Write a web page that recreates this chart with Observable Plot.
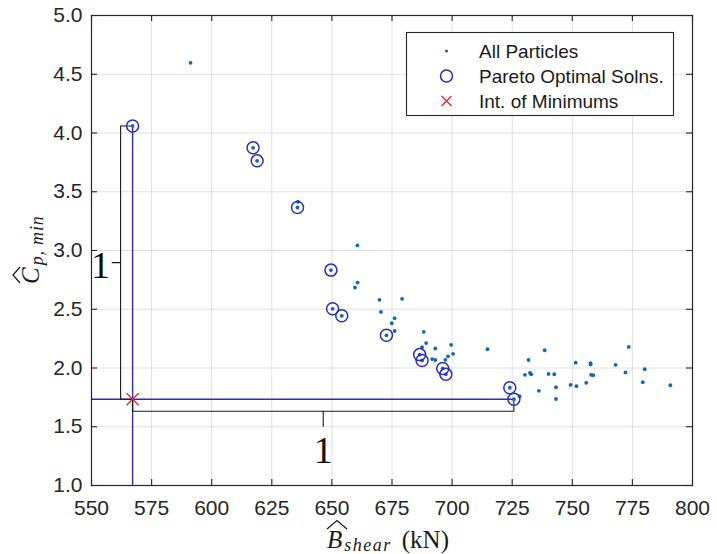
<!DOCTYPE html>
<html><head><meta charset="utf-8">
<script src="https://cdn.jsdelivr.net/npm/d3@7"></script>
<script src="https://cdn.jsdelivr.net/npm/@observablehq/plot@0.6"></script>
<style>html,body{margin:0;padding:0;background:#fff}svg{display:block}</style>
</head><body><div id="chart"></div>
<script>
// ---- data ----
const particleX = [591.2, 635.9, 660.6, 660.7, 659.6, 669.8, 679.2, 670.4, 676.1, 674.9, 676.1, 688.2, 689.2, 687.5, 693.0, 699.6, 700.4, 698.3, 697.2, 691.7, 693.0, 714.7, 728.1, 738.5, 731.8, 730.3, 732.4, 732.9, 736.1, 740.1, 742.5, 743.2, 743.2, 749.3, 751.4, 751.7, 755.8, 757.6, 757.6, 757.8, 758.7, 768.0, 772.1, 773.5, 780.1, 779.3, 790.8];
const particleY = [4.597, 3.415, 3.043, 2.727, 2.685, 2.580, 2.589, 2.477, 2.424, 2.381, 2.315, 2.308, 2.212, 2.177, 2.166, 2.197, 2.121, 2.099, 2.070, 2.076, 2.068, 2.160, 1.760, 2.151, 2.068, 1.942, 1.959, 1.946, 1.806, 1.950, 1.947, 1.837, 1.736, 1.857, 2.045, 1.845, 1.874, 2.041, 2.029, 1.942, 1.939, 2.027, 1.962, 2.179, 1.990, 1.879, 1.853];
const paretoX = [567.1, 617.2, 618.9, 635.7, 649.6, 650.3, 654.1, 672.7, 686.5, 687.5, 696.1, 697.4, 724.0, 725.7];
const paretoY = [4.060, 3.874, 3.763, 3.366, 2.833, 2.504, 2.444, 2.278, 2.114, 2.064, 1.996, 1.946, 1.832, 1.734];
const xTicks = [550, 575, 600, 625, 650, 675, 700, 725, 750, 775, 800];
const yTicks = [1.0, 1.5, 2.0, 2.5, 3.0, 3.5, 4.0, 4.5, 5.0];
const legendLabels = ["All Particles", "Pareto Optimal Solns.", "Int. of Minimums"];
const bracketLabel = "1";

// ---- derived tables ----
const particles = particleX.map((x, i) => ({x, y: particleY[i]}));
const pareto = paretoX.map((x, i) => ({x, y: paretoY[i]}));
const iMinX = d3.minIndex(paretoX), iMinY = d3.minIndex(paretoY);
const xMin = paretoX[iMinX], yAtXMin = paretoY[iMinX];
const yMin = paretoY[iMinY], xAtYMin = paretoX[iMinY];
const intersection = [{x: xMin, y: yMin}];

const W = 717, H = 554, mL = 91, mR = 25, mT = 15, mB = 69;
const plotW = W - mL - mR, plotH = H - mT - mB;
const xD = [550, 800], yD = [1, 5];
const ux = (xD[1] - xD[0]) / plotW, uy = (yD[1] - yD[0]) / plotH; // data units per px
const tX = 6 * ux, tY = 6 * uy;

const blueLines = [
  {x: xMin, y: yD[0], g: "v"}, {x: xMin, y: yAtXMin, g: "v"},
  {x: xD[0], y: yMin, g: "h"}, {x: xAtYMin, y: yMin, g: "h"}
];
const bx = xMin - 12 * ux, by = yMin - 12 * uy;
const yMid = (yAtXMin + yMin) / 2, xMid = (xMin + xAtYMin) / 2;
const brackets = [
  {x: xMin, y: yAtXMin, g: "a"}, {x: bx, y: yAtXMin, g: "a"}, {x: bx, y: yMin, g: "a"}, {x: xMin, y: yMin, g: "a"},
  {x: bx, y: yMid, g: "b"}, {x: bx - 8.5 * ux, y: yMid, g: "b"},
  {x: xMin, y: yMin, g: "c"}, {x: xMin, y: by, g: "c"}, {x: xAtYMin, y: by, g: "c"}, {x: xAtYMin, y: yMin, g: "c"},
  {x: xMid, y: by, g: "d"}, {x: xMid, y: by - 15 * uy, g: "d"}
];
const bracketText = [
  {x: bx - 20 * ux, y: yMid - 3 * uy, t: bracketLabel},
  {x: xMid, y: by - 40 * uy, t: bracketLabel}
];

const AX = "#262626", GRID = "#000", BLUE = "#2b2bc4", PBLUE = "#0f6aa8", RED = "#e0262b";
const sans = "'Liberation Sans', Arial, Helvetica, sans-serif";
const serif = "'Liberation Serif', 'Times New Roman', serif";

const chart = Plot.plot({
  width: W, height: H,
  marginLeft: mL, marginRight: mR, marginTop: mT, marginBottom: mB,
  style: {fontFamily: sans, fontSize: "21px", color: AX, background: "#fff", overflow: "visible"},
  x: {domain: xD, axis: null},
  y: {domain: yD, axis: null},
  marks: [
    Plot.ruleX(xTicks.slice(1, -1), {x: d => d, stroke: GRID, strokeOpacity: 0.12}),
    Plot.ruleY(yTicks.slice(1, -1), {y: d => d, stroke: GRID, strokeOpacity: 0.12}),
    Plot.line(blueLines, {x: "x", y: "y", z: "g", stroke: BLUE, strokeWidth: 1.4}),
    Plot.line(brackets, {x: "x", y: "y", z: "g", stroke: "#1a1a1a", strokeWidth: 1.1}),
    Plot.dot(particles, {x: "x", y: "y", r: 1.9, fill: PBLUE, stroke: "none"}),
    Plot.dot(pareto, {x: "x", y: "y", r: 1.9, fill: PBLUE, stroke: "none"}),
    Plot.dot(pareto, {x: "x", y: "y", r: 6, stroke: BLUE, strokeWidth: 1.5, fill: "none"}),
    Plot.dot(intersection, {x: "x", y: "y", symbol: "times", r: 5.5, stroke: RED, strokeWidth: 1.3}),
    Plot.text(bracketText, {x: "x", y: "y", text: "t", fontFamily: serif, fontSize: 38, fill: "#111"}),
    Plot.frame({stroke: AX, strokeWidth: 1.2}),
    Plot.ruleX(xTicks, {x: d => d, y1: yD[0], y2: yD[0] + tY, stroke: AX, strokeWidth: 1.1}),
    Plot.ruleX(xTicks, {x: d => d, y1: yD[1] - tY, y2: yD[1], stroke: AX, strokeWidth: 1.1}),
    Plot.ruleY(yTicks, {y: d => d, x1: xD[0], x2: xD[0] + tX, stroke: AX, strokeWidth: 1.1}),
    Plot.ruleY(yTicks, {y: d => d, x1: xD[1] - tX, x2: xD[1], stroke: AX, strokeWidth: 1.1}),
    Plot.axisX(xTicks, {tickSize: 0, tickPadding: 15, label: null, fontSize: 21, fill: AX}),
    Plot.axisY(yTicks, {tickSize: 0, tickPadding: 9, label: null, fontSize: 21, fill: AX, tickFormat: d3.format(".1f")})
  ]
});
document.getElementById("chart").appendChild(chart);

// ---- legend & axis titles ----
const svg = d3.select(chart);
const lg = svg.append("g").attr("text-anchor", "start");
lg.append("rect").attr("x", 406.5).attr("y", 32.5).attr("width", 267).attr("height", 83)
  .attr("fill", "#fff").attr("stroke", AX).attr("stroke-width", 1.1);
const rows = [51, 76, 101], mx = 446.5;
lg.append("circle").attr("cx", mx).attr("cy", rows[0]).attr("r", 1.6).attr("fill", PBLUE);
lg.append("circle").attr("cx", mx).attr("cy", rows[1]).attr("r", 6).attr("fill", "none").attr("stroke", BLUE).attr("stroke-width", 1.5);
lg.append("path").attr("d", `M${mx-5},${rows[2]-5}L${mx+5},${rows[2]+5}M${mx-5},${rows[2]+5}L${mx+5},${rows[2]-5}`)
  .attr("stroke", RED).attr("stroke-width", 1.3);
legendLabels.forEach((t, i) => {
  lg.append("text").attr("x", 479).attr("y", rows[i]).attr("dy", "0.35em").attr("text-anchor", "start")
    .attr("font-family", sans).attr("font-size", 19).attr("fill", "#1a1a1a").text(t);
});

// x title
const xt = svg.append("g").attr("transform", "translate(327,548)").attr("text-anchor", "start");
const xtt = xt.append("text").attr("text-anchor", "start").attr("font-family", serif).attr("font-size", 25).attr("fill", "#1a1a1a");
xtt.append("tspan").attr("font-style", "italic").text("B");
xtt.append("tspan").attr("font-style", "italic").attr("font-size", 18).attr("letter-spacing", 1.5).attr("dy", 3).attr("dx", 2).text("shear");
xtt.append("tspan").attr("dy", -3).attr("dx", 10).attr("letter-spacing", 0).text("(kN)");
xt.append("path").attr("d", "M0,-19L10,-27.5L20,-19").attr("fill", "none").attr("stroke", "#1a1a1a").attr("stroke-width", 1.2);

// y title
const yt = svg.append("g").attr("transform", "translate(39,284) rotate(-90)").attr("text-anchor", "start");
const ytt = yt.append("text").attr("text-anchor", "start").attr("font-family", serif).attr("font-size", 25).attr("fill", "#1a1a1a");
ytt.append("tspan").attr("font-style", "italic").text("C");
ytt.append("tspan").attr("font-style", "italic").attr("font-size", 18).attr("letter-spacing", 0.8).attr("dy", 4).attr("dx", 2).text("p, min");
yt.append("path").attr("d", "M1,-19L9,-26L17,-19").attr("fill", "none").attr("stroke", "#1a1a1a").attr("stroke-width", 1.2);
</script>
</body></html>
